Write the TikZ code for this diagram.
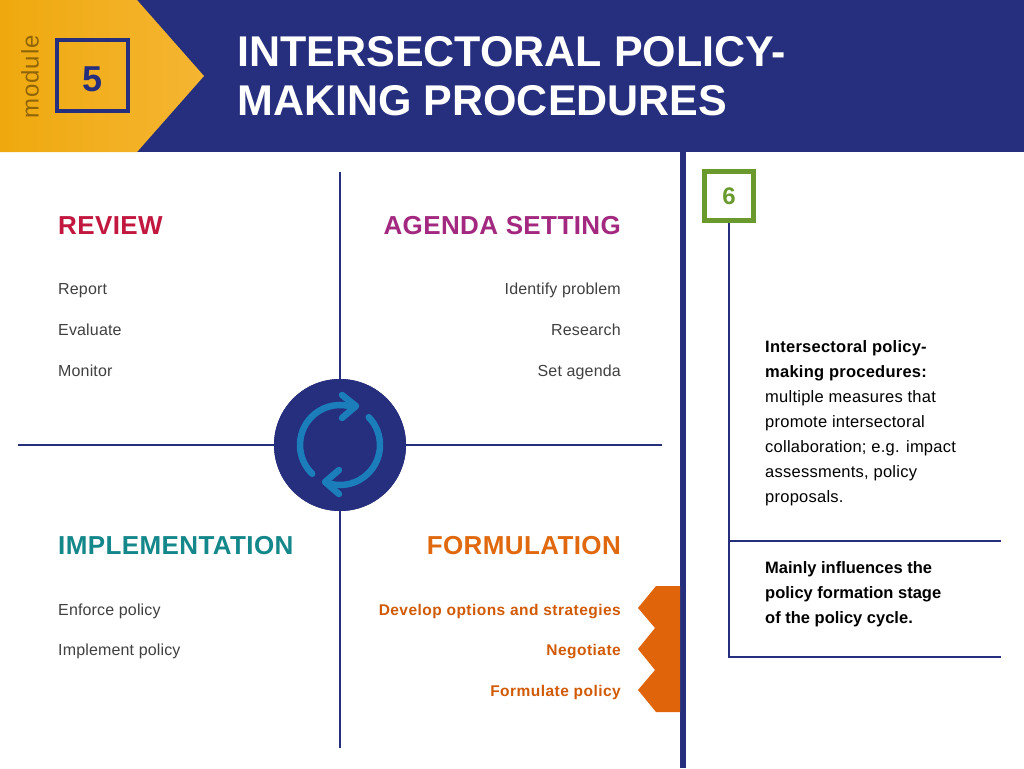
\documentclass[tikz,border=0pt]{standalone}
\usepackage{fontspec}
\setmainfont{Liberation Sans}
\usetikzlibrary{arrows.meta}
\definecolor{navy}{HTML}{262F7E}
\definecolor{yel}{HTML}{F5B532}
\definecolor{yeld}{HTML}{EFA90E}
\definecolor{rev}{HTML}{C2173F}
\definecolor{agd}{HTML}{A3287F}
\definecolor{imp}{HTML}{14878A}
\definecolor{frm}{HTML}{E0690F}
\definecolor{frmi}{HTML}{D25A05}
\definecolor{org}{HTML}{E0650A}
\definecolor{icon}{HTML}{1B7DBA}
\definecolor{grn}{HTML}{6A9A2E}
\definecolor{gtxt}{HTML}{404040}
\begin{document}
\begin{tikzpicture}[x=1pt,y=-1pt,
  head/.style={font=\fontsize{26}{28}\selectfont\bfseries\addfontfeature{LetterSpace=1.5}},
  item/.style={font=\fontsize{16}{18}\selectfont\addfontfeature{LetterSpace=1},text=gtxt},
  fitem/.style={font=\fontsize{15.5}{18}\selectfont\bfseries\addfontfeature{LetterSpace=3},text=frmi},
  thin/.style={navy,line width=1.6pt}]
\useasboundingbox (0,0) rectangle (1024,768);
\fill[white] (0,0) rectangle (1024,768);
% header
\fill[navy] (0,0) rectangle (1024,152);
\shade[left color=yeld,right color=yel] (0,0) -- (137,0) -- (204,76) -- (137,152) -- (0,152) -- cycle;
\node[rotate=90,text=yeld!60!black,font=\fontsize{24}{24}\selectfont\addfontfeature{LetterSpace=4}] (mod) at (30,77) {module};
\draw[navy,line width=4pt] (57,40) rectangle (128,111);
\node[text=navy,font=\fontsize{36}{36}\selectfont\bfseries] (five) at (92.5,79) {5};
\node[anchor=west,text=white,align=left,font=\fontsize{43}{49}\selectfont\bfseries] (title) at (234,76) {INTERSECTORAL POLICY-\\MAKING PROCEDURES};
% right area
\fill[navy] (680,152) rectangle (686,768);
\draw[grn,line width=5pt] (704.5,171.5) rectangle (753.5,220.5);
\node[text=grn,font=\fontsize{24}{24}\selectfont\bfseries] (six) at (729,196) {6};
\coordinate (g) at (729,223);
\coordinate (gb) at (729,657);
\draw[thin] (g) -- (gb) -- (1001,657);
\draw[thin] (729,541) -- (1001,541);
\node[anchor=north west,align=left,font=\fontsize{16.5}{25}\selectfont\addfontfeature{LetterSpace=1.5},inner sep=0] (desc) at (765,340) {\textbf{Intersectoral policy-}\\\textbf{making procedures:}\\multiple measures that\\promote intersectoral\\collaboration; e.g. impact\\assessments, policy\\proposals.};
\node[anchor=north west,align=left,font=\fontsize{16.5}{25}\selectfont\bfseries,inner sep=0] (infl) at (765,561) {Mainly influences the\\policy formation stage\\of the policy cycle.};
% orange zigzag
\fill[org] (656,586) -- (680,586) -- (680,712) -- (656,712) -- (638,690) -- (655,670) -- (638,649) -- (655,628) -- (638,608) -- cycle;
% cross and circle
\node[circle,fill=navy,minimum size=132pt,inner sep=0] (c) at (340,445) {};
\coordinate (t) at (340,172); \coordinate (b) at (340,748);
\coordinate (l) at (18,445); \coordinate (r) at (662,445);
\draw[thin] (t) -- (c.north) ; \draw[thin] (c.south) -- (b);
\draw[thin] (l) -- (c.west); \draw[thin] (c.east) -- (r);
\fill[navy] (c) circle (66);
\begin{scope}[shift={(340,445)},x=1pt,y=1pt,icon,line width=6.5pt,line cap=round,line join=round]
\draw (226:40) arc (226:76:40);
\draw (44:40) arc (44:-104:40);
\draw (2,50) -- (16,39) -- (2,27);
\draw (-1,-25) -- (-15,-37) -- (-1,-49);
\end{scope}
% headings
\node[head,text=rev,anchor=base west,inner sep=0] (h1) at (58,234) {REVIEW};
\node[head,text=agd,anchor=base east,inner sep=0] (h2) at (621,234) {AGENDA SETTING};
\node[head,text=imp,anchor=base west,inner sep=0] (h3) at (58,554) {IMPLEMENTATION};
\node[head,text=frm,anchor=base east,inner sep=0] (h4) at (621,554) {FORMULATION};
% items
\node[item,anchor=base west,inner sep=0] at (58,294) {Report};
\node[item,anchor=base west,inner sep=0] at (58,335) {Evaluate};
\node[item,anchor=base west,inner sep=0] at (58,376) {Monitor};
\node[item,anchor=base east,inner sep=0] at (621,294) {Identify problem};
\node[item,anchor=base east,inner sep=0] at (621,335) {Research};
\node[item,anchor=base east,inner sep=0] at (621,376) {Set agenda};
\node[item,anchor=base west,inner sep=0] at (58,615) {Enforce policy};
\node[item,anchor=base west,inner sep=0] at (58,655) {Implement policy};
\node[fitem,anchor=base east,inner sep=0] at (621,615) {Develop options and strategies};
\node[fitem,anchor=base east,inner sep=0] at (621,655) {Negotiate};
\node[fitem,anchor=base east,inner sep=0] at (621,696) {Formulate policy};
\end{tikzpicture}
\end{document}
